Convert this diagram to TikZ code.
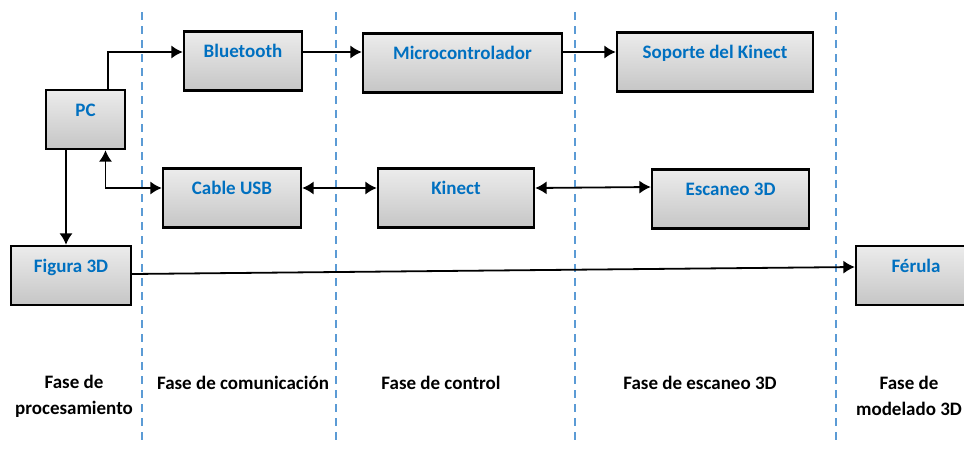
\documentclass[tikz,border=0pt]{standalone}
\usepackage{fontspec}
\setmainfont{Carlito}
\usepackage{tikz}
\usetikzlibrary{arrows.meta}
\tikzset{>={Latex[width=2.3mm,length=2mm]}}
\definecolor{txtblue}{RGB}{0,112,192}
\definecolor{phaseblue}{RGB}{91,155,213}
\tikzset{
  blk/.style={draw=black, line width=1.2pt, top color=gray!15, bottom color=gray!45,
    text=txtblue, font=\bfseries\fontsize{9.5}{11}\selectfont,
    text height=6.5pt, text depth=10pt, inner ysep=6.5pt},
  fase/.style={font=\bfseries\fontsize{9.5}{13}\selectfont, align=center},
  phase/.style={phaseblue, dash pattern=on 4pt off 3pt, line width=1pt},
  conn/.style={line width=0.9pt}
}

\begin{document}
\begin{tikzpicture}[x=0.5pt, y=-0.5pt]
    \useasboundingbox (0,0) rectangle (964,450);
    % fases
    \foreach \x in {142,336,575,836}
      \draw[phase] (\x,12) -- (\x,445);
    \node[blk, minimum width=39.5pt] (pc) at (85.5,119.5) {PC};
    \node[blk, minimum width=59pt] (bt) at (243,61) {Bluetooth};
    \node[blk, minimum width=69pt] (usb) at (232,198) {Cable USB};
    \node[blk, minimum width=60pt] (fig) at (71,275.5) {Figura 3D};
    \node[blk, minimum width=99.5pt] (mc) at (462.5,63) {Microcontrolador};
    \node[blk, minimum width=78pt] (kin) at (456,198) {Kinect};
    \node[blk, minimum width=98pt] (sop) at (715,62) {Soporte del Kinect};
    \node[blk, minimum width=78.5pt] (esc) at (730.5,199) {Escaneo 3D};
    \node[blk, minimum width=60pt] (fer) at (916,275.5) {Férula};
    \draw[conn, ->] ([xshift=11.25pt]pc.north) |- ([yshift=4.5pt]bt.west);
    \draw[conn, ->] ([yshift=4.5pt]bt.east) -- ([yshift=5.5pt]mc.west);
    \draw[conn, ->] ([yshift=5.5pt]mc.east) -- ([yshift=5pt]sop.west);
    \draw[conn, <->] ([xshift=10pt]pc.south) |- ([yshift=5pt]usb.west);
    \draw[conn, ->] ([xshift=-9.75pt]pc.south) -- ([xshift=-9.75pt]pc.south |- fig.north);
    \draw[conn, <->] ([yshift=5pt]usb.east) -- ([yshift=5pt]kin.west);
    \draw[conn, <->] ([yshift=5pt]kin.east) -- ([yshift=6pt]esc.west);
    \draw[conn, ->] ([yshift=0.75pt]fig.east) -- ([yshift=4.25pt]fer.west);
    \node[fase] (f1) at (74,396) {Fase de\\procesamiento};
    \node[fase] (f2) at (243,383) {Fase de comunicación};
    \node[fase] (f3) at (441,383) {Fase de control};
    \node[fase] (f4) at (700,383) {Fase de escaneo 3D};
    \node[fase] (f5) at (909,396) {Fase de\\modelado 3D};
\end{tikzpicture}
\end{document}
